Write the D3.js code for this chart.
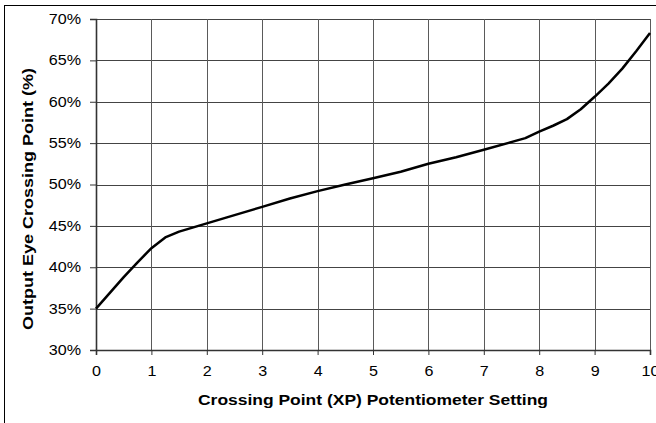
<!DOCTYPE html>
<html>
<head>
<meta charset="utf-8">
<script src="https://cdn.jsdelivr.net/npm/d3@7"></script>
<style>
  body { margin: 0; background: #fff; }
  text { font-family: "Liberation Sans", Arial, sans-serif; }
</style>
</head>
<body>
<svg id="chart" width="656" height="423"></svg>
<script>
// potentiometer setting vs. output eye crossing point (%)
const xpSetting = [0, 0.5, 0.75, 1, 1.25, 1.5, 2, 2.5, 3, 3.5, 4, 4.5, 5, 5.5, 6, 6.5, 7, 7.75, 8, 8.25, 8.5, 8.75, 9, 9.25, 9.5, 9.75, 10]
const crossingPct = [35.0, 38.8, 40.6, 42.3, 43.6, 44.3, 45.3, 46.3, 47.3, 48.3, 49.2, 50.0, 50.75, 51.55, 52.5, 53.3, 54.2, 55.6, 56.4, 57.1, 57.9, 59.1, 60.6, 62.2, 64.0, 66.1, 68.3]
const xTicks = [0, 1, 2, 3, 4, 5, 6, 7, 8, 9, 10]
const yTicks = [30, 35, 40, 45, 50, 55, 60, 65, 70]

const margin = { top: 19, left: 96, right: 6, bottom: 73 },
    width = 656 - margin.left - margin.right,
    height = 423 - margin.top - margin.bottom

const svg = d3.select("#chart")

// the source font is a bit wider than Liberation Sans
function stretch(sel, k) {
    sel.each(function () {
        const w = this.getComputedTextLength()
        d3.select(this)
            .attr("textLength", w * k)
            .attr("lengthAdjust", "spacingAndGlyphs")
    })
}

// outer frame
svg.append("rect")
    .attr("x", 4.5).attr("y", 5.5)
    .attr("width", 660).attr("height", 430)
    .attr("fill", "none").attr("stroke", "#000").attr("stroke-width", 1)

const g = svg.append("g")
    .attr("transform", `translate(${margin.left},${margin.top})`)

const x = d3.scaleLinear().domain([0, 10]).range([0, width])
const y = d3.scaleLinear().domain([30, 70]).range([height, 0])

// grid
g.selectAll(".hgrid")
    .data(yTicks)
    .enter()
    .append("line")
    .attr("class", "hgrid")
    .attr("x1", 0).attr("x2", width)
    .attr("y1", d => Math.round(y(d)) + 0.5).attr("y2", d => Math.round(y(d)) + 0.5)
    .attr("stroke", "#444").attr("stroke-width", 1)

g.selectAll(".vgrid")
    .data(xTicks)
    .enter()
    .append("line")
    .attr("class", "vgrid")
    .attr("y1", 0).attr("y2", height)
    .attr("x1", d => Math.round(x(d)) + 0.5).attr("x2", d => Math.round(x(d)) + 0.5)
    .attr("stroke", "#5a5a5a").attr("stroke-width", 1)

// axes
const xAxis = g.append("g")
    .attr("transform", `translate(0,${height})`)
    .call(d3.axisBottom(x).tickValues(xTicks).tickSize(5).tickPadding(11).tickFormat(d3.format("d")))

const yAxis = g.append("g")
    .call(d3.axisLeft(y).tickValues(yTicks).tickSize(6).tickPadding(9).tickFormat(d => d + "%"))

for (const ax of [xAxis, yAxis]) {
    ax.select(".domain").attr("stroke", "#333").attr("stroke-width", 1.6)
    ax.selectAll(".tick line").attr("stroke", "#333")
    ax.selectAll(".tick text")
        .attr("fill", "#000")
        .style("font-size", "14px")
        .style("font-family", "'Liberation Sans', Arial, sans-serif")
        .call(stretch, 1.15)
}

// curve
const line = d3.line()
    .x(d => x(d[0]))
    .y(d => y(d[1]))

g.append("path")
    .datum(d3.zip(xpSetting, crossingPct))
    .attr("d", line)
    .attr("fill", "none")
    .attr("stroke", "#000")
    .attr("stroke-width", 2.5)
    .attr("stroke-linejoin", "round")

// titles
svg.append("text")
    .attr("x", margin.left + width / 2)
    .attr("y", 405)
    .attr("text-anchor", "middle")
    .style("font-size", "14px")
    .style("font-weight", "bold")
    .text("Crossing Point (XP) Potentiometer Setting")
    .attr("textLength", 350)
    .attr("lengthAdjust", "spacingAndGlyphs")

svg.append("text")
    .attr("transform", "translate(33,199) rotate(-90)")
    .attr("text-anchor", "middle")
    .style("font-size", "14px")
    .style("font-weight", "bold")
    .text("Output Eye Crossing Point (%)")
    .attr("textLength", 262)
    .attr("lengthAdjust", "spacingAndGlyphs")
</script>
</body>
</html>
